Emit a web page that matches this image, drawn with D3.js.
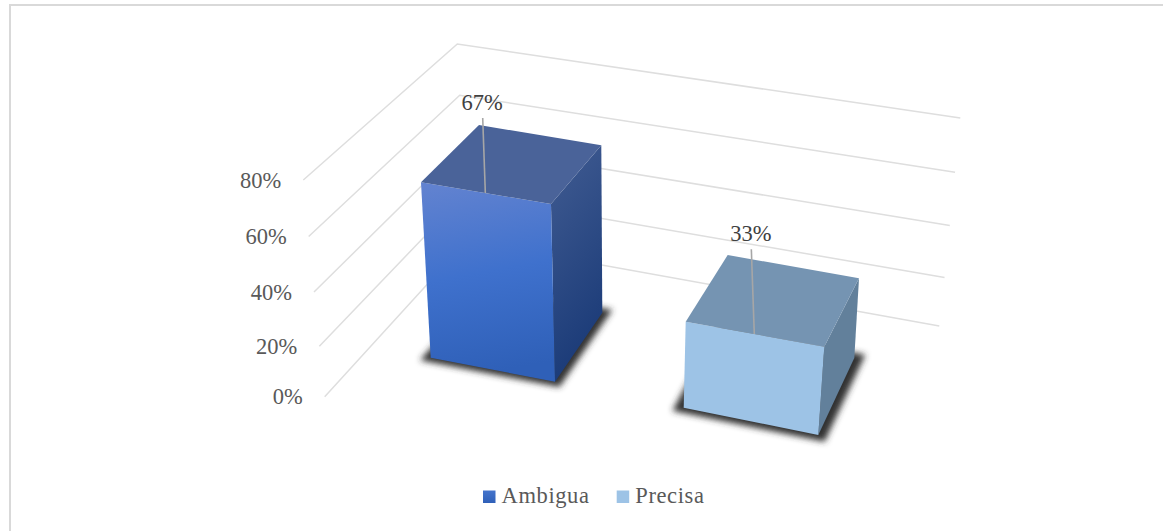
<!DOCTYPE html>
<html>
<head>
<meta charset="utf-8">
<script src="https://cdn.jsdelivr.net/npm/d3@7"></script>
<style>
html,body{margin:0;padding:0;background:#fff}
svg{display:block}
text{font-family:"Liberation Serif","Times New Roman",serif}
</style>
</head>
<body>
<svg id="chart" width="1163" height="531"></svg>
<script>
// ---- data ----
const categories = ["Ambigua", "Precisa"];
const seriesValues = [67, 33];
const tickValues = [0, 20, 40, 60, 80];
const tickLabels = ["0%", "20%", "40%", "60%", "80%"];
const valueLabels = ["67%", "33%"];

// ---- layout / style ----
const svg = d3.select("#chart");
const W = 1163, H = 531;
const maxV = 80, persp = 1.05;
const gridScale = (a, b) => d3.scalePow().exponent(persp).domain([0, maxV]).range([a, b]);
const linScale = (a, b) => d3.scaleLinear().domain([0, maxV]).range([a, b]);

const grid = {
  frontX: linScale(324.7, 303.3), frontY: gridScale(396.7, 180),
  cornerX: linScale(467, 457.3), cornerY: gridScale(240.7, 44),
  rightX: linScale(939.3, 960.3), rightY: gridScale(326, 118)
};

// footprint corners per category with where each vertical edge reaches at the axis maximum
const bars = [
  { fl:[[430.7,357.7],[419.1,148.3]], fr:[[555,381.7],[550.2,169.5]],
    br:[[602.3,312.7],[601.1,112.8]], bl:[[486,294],[477.6,92.2]],
    front:"gradA", top:"#4a6399", side:"gradAS", leader:75, shadow:1.12 },
  { fl:[[683.7,407.7],[688.55,199.2]], fr:[[818.3,435],[832.8,221]],
    br:[[854.3,358],[865.7,164.8]], bl:[[724,333],[733,144]],
    front:"#9dc3e6", top:"#7594b2", side:"#62809b", leader:84.8, shadow:1.13 }
];
const cornerAt = (c, v) => [linScale(c[0][0], c[1][0])(v), linScale(c[0][1], c[1][1])(v)];
const poly = pts => pts.map(p => p.map(n => n.toFixed(2)).join(",")).join(" ");

// ---- defs ----
const defs = svg.append("defs");
function grad(id, x2, y2, stops) {
  const g = defs.append("linearGradient").attr("id", id)
    .attr("x1", 0).attr("y1", 0).attr("x2", x2).attr("y2", y2);
  stops.forEach(s => g.append("stop").attr("offset", s[0]).attr("stop-color", s[1]));
}
grad("gradA", 0.12, 1, [[0, "#6383d0"], [0.5, "#3f71cd"], [1, "#2f60b8"]]);
grad("gradAS", 0.25, 1, [[0, "#415c92"], [1, "#1b3b78"]]);
grad("gradL", 0, 1, [[0, "#4474cc"], [1, "#2f60b8"]]);
defs.append("filter").attr("id", "blur")
  .attr("x", "-20%").attr("y", "-20%").attr("width", "140%").attr("height", "140%")
  .append("feGaussianBlur").attr("stdDeviation", 3.2);
const paint = c => c.startsWith("#") ? c : `url(#${c})`;

// ---- frame: only the top and left edges show ----
svg.append("path").attr("d", d3.line()([[10, H], [10, 5], [W, 5]]))
  .attr("fill", "none").attr("stroke", "#d9d9d9").attr("stroke-width", 2);

// ---- grid lines ----
const line = d3.line();
svg.append("g").selectAll("path").data(tickValues).join("path")
  .attr("d", t => line([
    [grid.frontX(t), grid.frontY(t)],
    [grid.cornerX(t), grid.cornerY(t)],
    [grid.rightX(t), grid.rightY(t)]
  ]))
  .attr("fill", "none").attr("stroke", "#dedede").attr("stroke-width", 1.5);

// ---- axis labels ----
svg.append("g").selectAll("text").data(tickValues).join("text")
  .attr("x", t => grid.frontX(t) - 22)
  .attr("y", t => grid.frontY(t) + 7.5)
  .attr("text-anchor", "end").attr("font-size", 22.5).attr("fill", "#595959")
  .text((t, i) => tickLabels[i]);

// ---- bars ----
const gBars = svg.append("g");
bars.forEach((b, i) => {
  const v = seriesValues[i];
  const base = [b.fl[0], b.fr[0], b.br[0], b.bl[0]];
  const cx = d3.mean(base, p => p[0]), cy = d3.mean(base, p => p[1]);
  const grown = base.map(p => [cx + (p[0] - cx) * b.shadow, cy + (p[1] - cy) * b.shadow]);
  gBars.append("polygon").attr("points", poly(grown))
    .attr("fill", "#303030").attr("filter", "url(#blur)");

  const tFL = cornerAt(b.fl, v), tFR = cornerAt(b.fr, v), tBR = cornerAt(b.br, v), tBL = cornerAt(b.bl, v);
  gBars.append("polygon").attr("points", poly([tFR, tBR, b.br[0], b.fr[0]])).attr("fill", paint(b.side));
  gBars.append("polygon").attr("points", poly([tFL, tFR, b.fr[0], b.fl[0]])).attr("fill", paint(b.front));
  gBars.append("polygon").attr("points", poly([tBL, tBR, tFR, tFL])).attr("fill", paint(b.top));

  // leader and data label
  const lx = d3.interpolateNumber(tFL[0], tFR[0])(0.495);
  const ly = d3.interpolateNumber(tFL[1], tFR[1])(0.495);
  const topX = lx - b.leader * 0.035, topY = ly - b.leader;
  gBars.append("line").attr("x1", lx).attr("y1", ly).attr("x2", topX).attr("y2", topY)
    .attr("stroke", "#a6a6a6").attr("stroke-width", 1.6);
  gBars.append("text").attr("x", topX - 0.5).attr("y", topY - 8.5)
    .attr("text-anchor", "middle").attr("font-size", 22.5).attr("fill", "#404040")
    .text(valueLabels[i]);
});

// ---- legend ----
const legendX = d3.scaleOrdinal().domain(categories).range([483, 616.7]);
const legendFill = d3.scaleOrdinal().domain(categories).range(["url(#gradL)", "#9dc3e6"]);
const gLegend = svg.append("g").selectAll("g").data(categories).join("g")
  .attr("transform", d => `translate(${legendX(d)},490.5)`);
gLegend.append("rect").attr("width", 12.5).attr("height", 12.5).attr("fill", d => legendFill(d));
gLegend.append("text").attr("x", 18.6).attr("y", 12.8)
  .attr("font-size", 22.5).attr("letter-spacing", 0.6).attr("fill", "#595959").text(d => d);
</script>
</body>
</html>
